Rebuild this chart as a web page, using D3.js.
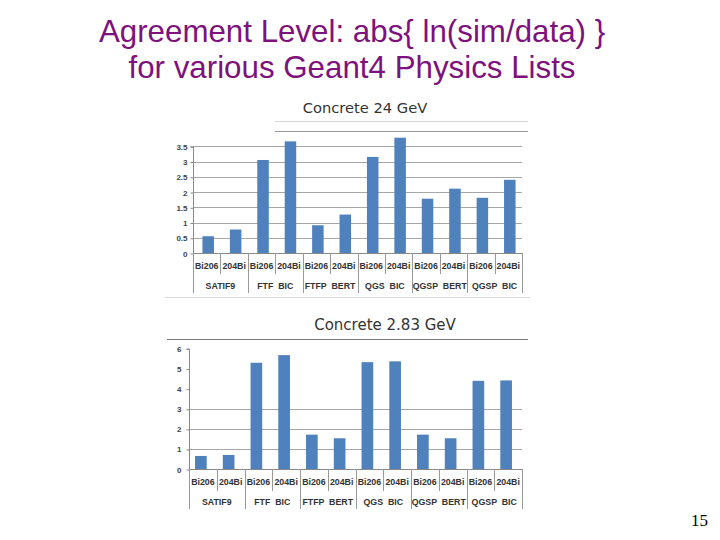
<!DOCTYPE html>
<html><head><meta charset="utf-8">
<script src="https://cdn.jsdelivr.net/npm/d3@7"></script>
<style>body{margin:0;background:#fff}svg{display:block}</style>
</head><body><svg id="c" width="720" height="540"></svg>
<script>
// ---- data ----
const categories = ["Bi206","204Bi","Bi206","204Bi","Bi206","204Bi","Bi206","204Bi","Bi206","204Bi","Bi206","204Bi"];
const groups = ["SATIF9","FTF  BIC","FTFP  BERT","QGS  BIC","QGSP  BERT","QGSP  BIC"];
const values24 = [0.55,0.77,3.05,3.66,0.91,1.26,3.15,3.78,1.78,2.11,1.81,2.40];
const values283 = [0.65,0.70,5.29,5.67,1.71,1.53,5.32,5.36,1.71,1.53,4.39,4.41];
const ticks24 = [0,0.5,1,1.5,2,2.5,3,3.5];
const ticks283 = [0,1,2,3,4,5,6];
const titleLines = ["Agreement Level: abs{ ln(sim/data) }","for various Geant4 Physics Lists"];
const chartTitles = ["Concrete 24 GeV","Concrete 2.83 GeV"];
const pageNumber = "15";

const svg = d3.select("#c");
svg.append("rect").attr("width",720).attr("height",540).attr("fill","#fff");

// main title
svg.selectAll("text.mt").data(titleLines).join("text")
  .attr("x",352).attr("y",(d,i)=>41.5+i*36.5)
  .attr("text-anchor","middle")
  .attr("font-family","Liberation Sans, Arial, sans-serif")
  .attr("font-size",31.3).attr("fill","#7d117d").text(d=>d);

svg.append("text").attr("x",708).attr("y",526).attr("text-anchor","end")
  .attr("font-family","Liberation Serif, Times New Roman, serif")
  .attr("font-size",17).attr("fill","#000").text(pageNumber);

function drawChart(cfg){
  const g = svg.append("g");
  const keys = categories.map((c,i)=>i);
  const x = d3.scaleBand().domain(keys).range([cfg.x0,cfg.x1]).padding(0);
  const y = d3.scaleLinear().domain([0,cfg.ymax]).range([cfg.y0,cfg.ytop]);
  // decorative frame lines
  cfg.frame.forEach(f=>{
    g.append("line").attr("x1",f[0]).attr("x2",f[1]).attr("y1",f[2]).attr("y2",f[2])
      .attr("stroke",f[3]).attr("stroke-width",1);
  });
  // title
  g.append("text").attr("x",cfg.tx).attr("y",cfg.ty).attr("text-anchor","middle")
    .attr("font-family","DejaVu Sans, Verdana, sans-serif").attr("font-size",cfg.tfs)
    .attr("fill","#333").text(cfg.title);
  // gridlines
  g.selectAll("line.grid").data(cfg.ticks.filter(t=>t>0 && t<=cfg.gridMax)).join("line")
    .attr("x1",cfg.x0).attr("x2",cfg.x1).attr("y1",d=>Math.round(y(d))+0.5).attr("y2",d=>Math.round(y(d))+0.5)
    .attr("stroke","#a6a6a6").attr("stroke-width",1);
  // y axis
  const ax = d3.axisLeft(y).tickValues(cfg.ticks).tickSize(3).tickFormat(d=>String(d));
  const ag = g.append("g").attr("transform",`translate(${cfg.x0+0.5},0.5)`).call(ax);
  ag.select(".domain").attr("stroke","#888").attr("d",`M-3,${y(cfg.axisTop)}H0V${y(0)}`);
  ag.selectAll(".tick line").attr("stroke","#888");
  ag.selectAll(".tick text").attr("font-family","Liberation Sans, Arial, sans-serif")
    .attr("font-size",8).attr("font-weight","bold").attr("fill","#444").attr("x",-cfg.labOff);
  // bars
  const bw = x.bandwidth()*0.42;
  g.selectAll("rect.bar").data(cfg.values).join("rect")
    .attr("x",(d,i)=>x(i)+x.bandwidth()/2-bw/2+cfg.barShift).attr("width",bw)
    .attr("y",d=>y(d)).attr("height",d=>y(0)-y(d)).attr("fill","#4f81bd");
  // x axis baseline
  g.append("line").attr("x1",cfg.x0).attr("x2",cfg.x1).attr("y1",Math.round(y(0))+0.5).attr("y2",Math.round(y(0))+0.5)
    .attr("stroke","#888");
  // separators
  const seps = d3.range(13);
  g.selectAll("line.sep").data(seps).join("line")
    .attr("x1",i=>Math.round(cfg.x0+i*x.step())+0.5).attr("x2",i=>Math.round(cfg.x0+i*x.step())+0.5)
    .attr("y1",y(0)).attr("y2",i=> i%2===0 ? cfg.sepLong : cfg.sepShort)
    .attr("stroke","#999");
  // category labels
  g.selectAll("text.cat").data(categories).join("text")
    .attr("x",(d,i)=>x(i)+x.bandwidth()/2).attr("y",cfg.catY)
    .attr("text-anchor","middle").attr("font-family","Liberation Sans, Arial, sans-serif")
    .attr("font-size",cfg.lfs).attr("font-weight","bold").attr("fill","#333").text(d=>d);
  g.selectAll("text.grp").data(groups).join("text")
    .attr("x",(d,i)=>x(2*i)+x.step()).attr("y",cfg.grpY)
    .attr("text-anchor","middle").attr("font-family","Liberation Sans, Arial, sans-serif")
    .attr("font-size",cfg.lfs).attr("font-weight","bold").attr("fill","#333")
    .attr("xml:space","preserve").style("white-space","pre").text(d=>d);
}

drawChart({title:chartTitles[0], values:values24, ticks:ticks24, ymax:4, gridMax:3.5, axisTop:3.5,
  x0:193, x1:522, y0:253, ytop:131, tx:365, ty:113, tfs:14.7, labOff:6, barShift:1.5,
  catY:268.5, grpY:289, sepShort:274, sepLong:293, lfs:8.8,
  frame:[[275,528,121.5,"#d4d4d4"],[275,528,131.5,"#9a9a9a"],[165,530,297.5,"#d8d8d8"]]});

drawChart({title:chartTitles[1], values:values283, ticks:ticks283, ymax:6, gridMax:3, axisTop:6,
  x0:189, x1:522, y0:469, ytop:348.5, tx:385, ty:329.5, tfs:15, labOff:8, barShift:-2,
  catY:484.5, grpY:505, sepShort:491, sepLong:509, lfs:8.8,
  frame:[[167,528,339.5,"#7a7a7a"]]});
</script></body></html>
